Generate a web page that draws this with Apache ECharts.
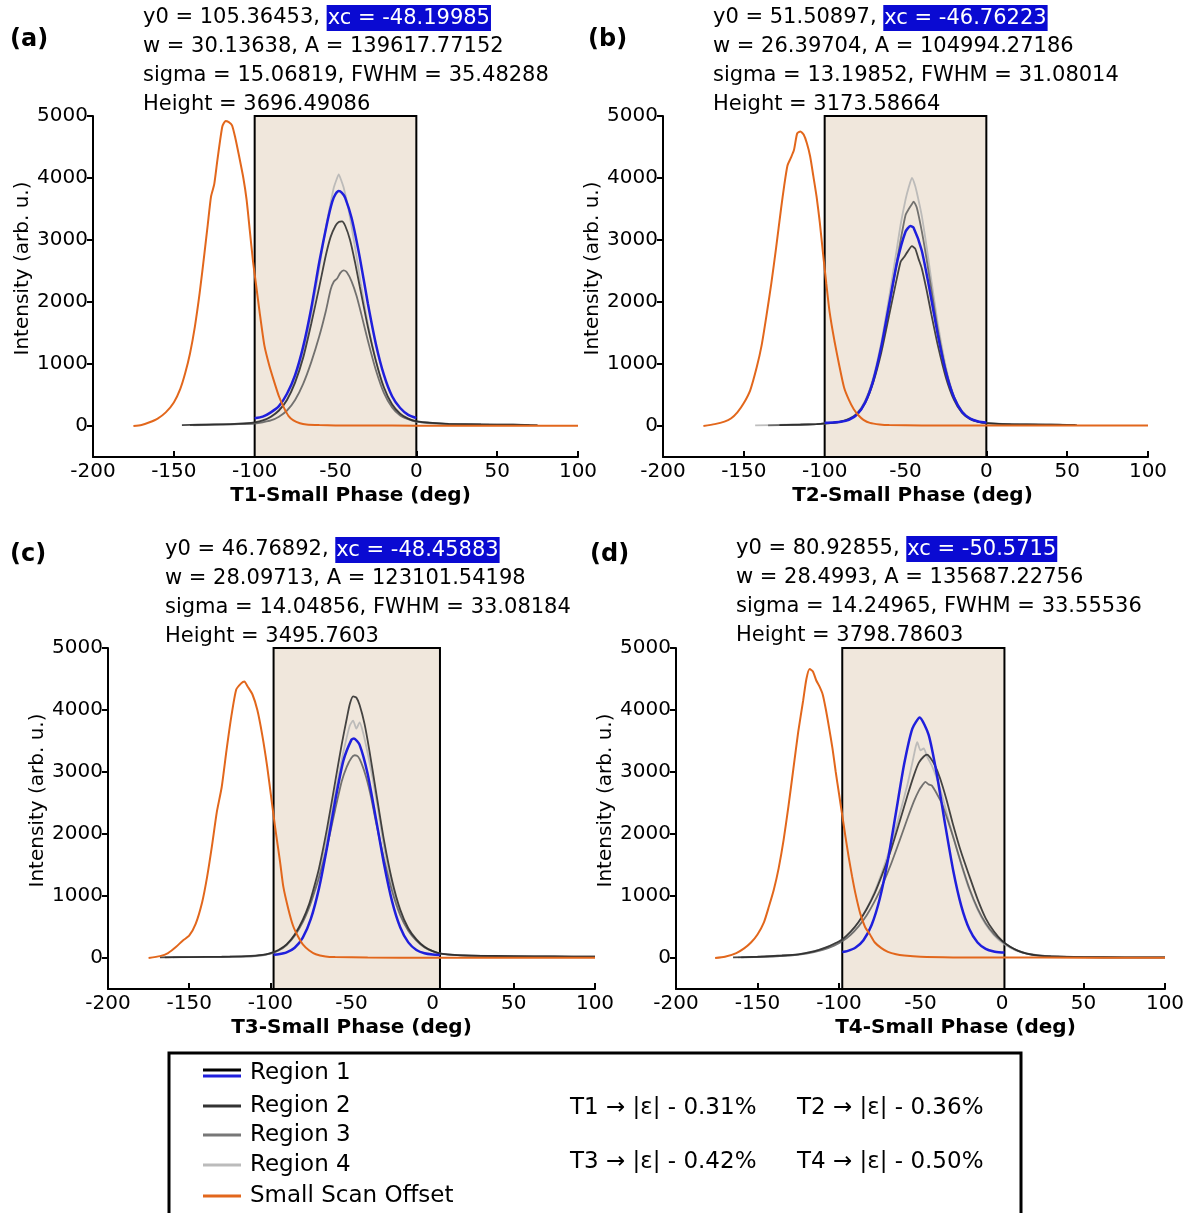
<!DOCTYPE html>
<html>
<head>
<meta charset="utf-8">
<script src="https://cdn.jsdelivr.net/npm/echarts@6/dist/echarts.min.js"></script>
<style>
html,body{margin:0;padding:0;background:#fff;}
#main{width:1195px;height:1213px;}
</style>
</head>
<body>
<div id="main"></div>
<script>
// ---------------- DATA ----------------
const xTicks = [-200, -150, -100, -50, 0, 50, 100];
const yTicks = [0, 1000, 2000, 3000, 4000, 5000];
const seriesNames = ['Region 1', 'Region 2', 'Region 3', 'Region 4', 'Small Scan Offset'];
const xTitles = ['T1-Small Phase (deg)', 'T2-Small Phase (deg)', 'T3-Small Phase (deg)', 'T4-Small Phase (deg)'];
const panelLabels = ['(a)', '(b)', '(c)', '(d)'];
const strainText = [['T1 → |ε| - 0.31%', 'T2 → |ε| - 0.36%'], ['T3 → |ε| - 0.42%', 'T4 → |ε| - 0.50%']];

// fit parameter annotations: [y0, xc, w, A, sigma, FWHM, Height]
const fitA = ['105.36453', '-48.19985', '30.13638', '139617.77152', '15.06819', '35.48288', '3696.49086'];
const fitB = ['51.50897', '-46.76223', '26.39704', '104994.27186', '13.19852', '31.08014', '3173.58664'];
const fitC = ['46.76892', '-48.45883', '28.09713', '123101.54198', '14.04856', '33.08184', '3495.7603'];
const fitD = ['80.92855', '-50.5715', '28.4993', '135687.22756', '14.24965', '33.55536', '3798.78603'];

// shaded phase windows [from, to]
const shadeA = [-100, 0];
const shadeB = [-100, 0];
const shadeC = [-98, 4.5];
const shadeD = [-98, 1.5];

// ---- panel (a) ----
const orangeA = [[-175,0],[-170,15],[-165,60],[-160,120],[-155,220],[-150,380],[-146,600],[-143,850],[-140,1170],[-137,1600],[-134,2150],[-131,2800],[-129,3250],[-127,3700],[-125,3900],[-123,4300],[-120,4830],[-118,4920],[-116,4900],[-114,4850],[-112,4650],[-110,4400],[-107,4000],[-105,3650],[-103,3150],[-101,2650],[-99,2250],[-97,1850],[-94,1300],[-91,980],[-88,720],[-85,480],[-82,300],[-79,160],[-76,90],[-72,45],[-68,25],[-60,15],[-50,10],[-30,8],[0,5],[50,5],[100,5]];
const region1A = [[-100,124],[-95,150],[-90,220],[-85,320],[-80,520],[-75,820],[-70,1280],[-65,1900],[-60,2650],[-55,3300],[-52,3620],[-50,3740],[-48,3790],[-46,3760],[-44,3680],[-40,3350],[-35,2720],[-30,1980],[-25,1320],[-20,820],[-15,480],[-10,290],[-5,180],[0,130]];
const region2A = [[-145,15],[-135,20],[-125,25],[-115,30],[-105,45],[-100,60],[-95,90],[-90,150],[-85,250],[-80,420],[-75,700],[-70,1100],[-65,1650],[-60,2250],[-56,2750],[-53,3050],[-50,3230],[-48,3290],[-46,3300],[-44,3230],[-41,3000],[-38,2650],[-35,2250],[-30,1600],[-25,1050],[-20,620],[-15,350],[-10,200],[-5,120],[0,80],[10,50],[20,35],[40,25],[60,20],[75,15]];
const region3A = [[-140,15],[-130,20],[-120,25],[-110,30],[-100,40],[-95,60],[-90,90],[-85,150],[-80,250],[-75,420],[-70,680],[-65,1030],[-60,1450],[-56,1850],[-53,2200],[-51,2330],[-49,2380],[-47,2470],[-45,2510],[-43,2480],[-40,2330],[-37,2100],[-34,1800],[-30,1380],[-25,900],[-20,530],[-15,300],[-10,170],[-5,110],[0,70],[10,45],[20,30],[40,25],[60,20],[70,15]];
const region4A = [[-138,10],[-125,20],[-110,30],[-100,50],[-95,80],[-90,140],[-85,250],[-80,430],[-75,740],[-70,1180],[-65,1800],[-60,2550],[-56,3200],[-53,3600],[-51,3850],[-49,4000],[-48,4060],[-47,4000],[-45,3850],[-42,3500],[-38,2900],[-35,2400],[-30,1650],[-25,1050],[-20,600],[-15,340],[-10,190],[-5,110],[0,70],[10,40],[25,30],[45,20],[65,15]];

// ---- panel (b) ----
const orangeB = [[-175,0],[-168,30],[-162,70],[-158,120],[-154,220],[-150,370],[-146,580],[-142,950],[-139,1300],[-136,1780],[-133,2300],[-130,2880],[-127,3500],[-125,3880],[-123,4200],[-121,4320],[-119,4450],[-117,4720],[-115,4750],[-113,4700],[-111,4560],[-109,4350],[-107,4030],[-105,3700],[-103,3280],[-101,2780],[-99,2300],[-97,1850],[-94,1380],[-91,980],[-88,620],[-85,420],[-82,270],[-79,170],[-76,100],[-72,50],[-66,25],[-60,15],[-40,10],[0,8],[50,8],[100,8]];
const region1B = [[-100,52],[-95,56],[-90,67],[-85,100],[-80,185],[-75,375],[-70,728],[-65,1277],[-60,1976],[-55,2667],[-50,3133],[-47,3225],[-45,3197],[-40,2835],[-35,2187],[-30,1469],[-25,868],[-20,459],[-15,227],[-10,118],[-5,73],[0,57]];
const region2B = [[-128,15],[-115,20],[-105,30],[-100,40],[-95,50],[-90,70],[-85,110],[-80,190],[-75,370],[-70,700],[-65,1180],[-60,1800],[-56,2300],[-53,2650],[-51,2720],[-49,2800],[-46,2900],[-44,2860],[-42,2700],[-40,2550],[-37,2200],[-34,1800],[-30,1300],[-25,780],[-20,420],[-15,210],[-10,110],[-5,65],[0,45],[10,30],[25,25],[40,20],[56,15]];
const region3B = [[-135,10],[-120,20],[-105,30],[-100,40],[-95,50],[-90,70],[-85,110],[-80,200],[-75,390],[-70,740],[-65,1260],[-60,1950],[-56,2550],[-53,3000],[-50,3400],[-48,3500],[-46,3580],[-45,3620],[-43,3520],[-40,3150],[-37,2700],[-34,2200],[-30,1550],[-25,900],[-20,470],[-15,230],[-10,120],[-5,70],[0,45],[15,30],[30,25],[45,20],[55,15]];
const region4B = [[-143,10],[-125,20],[-110,25],[-100,40],[-95,50],[-90,75],[-85,120],[-80,210],[-75,410],[-70,780],[-65,1350],[-60,2100],[-56,2750],[-53,3250],[-50,3650],[-48,3850],[-46,4000],[-44,3870],[-42,3650],[-40,3400],[-37,2900],[-34,2350],[-30,1650],[-25,950],[-20,480],[-15,240],[-10,120],[-5,70],[0,45],[20,25],[40,20],[55,15]];

// ---- panel (c) ----
const orangeC = [[-175,0],[-168,30],[-163,80],[-158,180],[-154,280],[-150,360],[-146,550],[-142,900],[-139,1300],[-136,1800],[-133,2350],[-130,2750],[-127,3350],[-124,3900],[-121,4330],[-118,4430],[-116,4460],[-114,4380],[-111,4250],[-108,4000],[-105,3600],[-102,3100],[-99.5,2600],[-97,2100],[-94,1550],[-92,1150],[-89,800],[-86,520],[-83,350],[-80,220],[-76,120],[-72,60],[-66,25],[-60,15],[-40,8],[0,5],[50,5],[100,5]];
const region1C = [[-98,54],[-95,61],[-90,91],[-85,166],[-80,328],[-75,634],[-70,1127],[-65,1795],[-60,2543],[-55,3183],[-50,3522],[-48.5,3542],[-45,3438],[-40,2963],[-35,2256],[-30,1522],[-25,914],[-20,496],[-15,252],[-10,130],[-5,76],[0,56],[4.5,50]];
const region2C = [[-168,10],[-150,15],[-130,20],[-115,30],[-105,50],[-100,80],[-95,130],[-90,220],[-85,380],[-80,620],[-76,880],[-73,1150],[-70,1450],[-65,2100],[-60,2850],[-56,3450],[-53,3850],[-51,4100],[-49,4220],[-47,4200],[-45,4080],[-42,3780],[-39,3350],[-35,2700],[-30,1900],[-25,1250],[-20,780],[-15,480],[-10,300],[-5,180],[0,110],[5,70],[15,45],[30,35],[50,30],[75,25],[100,20]];
const region3C = [[-165,10],[-145,15],[-125,20],[-110,30],[-100,70],[-95,120],[-90,210],[-85,360],[-80,580],[-76,820],[-73,1050],[-70,1300],[-65,1800],[-60,2400],[-56,2850],[-53,3080],[-50,3230],[-48,3270],[-46,3250],[-44,3150],[-41,2920],[-38,2600],[-35,2200],[-30,1600],[-25,1080],[-20,690],[-15,440],[-10,280],[-5,170],[0,110],[5,70],[20,40],[40,30],[70,25],[100,20]];
const region4C = [[-160,10],[-140,15],[-120,20],[-105,40],[-100,70],[-95,120],[-90,210],[-85,370],[-80,600],[-76,850],[-73,1100],[-70,1380],[-65,1950],[-60,2650],[-56,3200],[-53,3550],[-51,3750],[-49,3830],[-47,3700],[-45,3800],[-43,3650],[-40,3300],[-37,2900],[-34,2450],[-30,1800],[-25,1180],[-20,740],[-15,460],[-10,290],[-5,175],[0,110],[5,70],[20,40],[45,30],[75,25],[100,20]];

// ---- panel (d) ----
const orangeD = [[-176,0],[-170,20],[-163,80],[-158,160],[-154,250],[-150,380],[-146,580],[-143,830],[-140,1100],[-137,1450],[-134,1900],[-131,2450],[-128,3050],[-125,3650],[-122,4150],[-120,4500],[-118,4660],[-116,4620],[-114,4480],[-112,4380],[-110,4250],[-108,4000],[-106,3700],[-104,3380],[-102,3000],[-100,2650],[-98,2300],[-96,1950],[-94,1620],[-92,1320],[-90,1050],[-87,720],[-84,500],[-81,380],[-78,250],[-74,160],[-70,100],[-65,60],[-60,40],[-50,20],[-30,10],[0,8],[50,5],[100,5]];
const region1D = [[-98,96],[-95,110],[-90,164],[-85,286],[-80,531],[-75,955],[-70,1580],[-65,2355],[-60,3132],[-55,3701],[-50.5,3880],[-45,3599],[-40,2965],[-35,2172],[-30,1421],[-25,841],[-20,462],[-15,250],[-10,147],[-5,104],[0,88],[1.5,87]];
const region2D = [[-165,10],[-150,20],[-135,40],[-125,60],[-115,110],[-108,170],[-103,230],[-98,300],[-93,420],[-88,580],[-83,790],[-78,1050],[-73,1380],[-68,1750],[-63,2180],[-58,2620],[-54,2950],[-51,3150],[-48,3250],[-46,3280],[-44,3230],[-41,3100],[-38,2900],[-34,2550],[-30,2150],[-25,1700],[-20,1320],[-15,950],[-10,640],[-5,430],[0,280],[5,180],[10,115],[15,72],[22,40],[30,25],[50,15],[75,10],[100,10]];
const region3D = [[-160,10],[-145,20],[-130,40],[-120,70],[-110,130],[-103,200],[-98,270],[-93,370],[-88,510],[-83,690],[-78,920],[-73,1200],[-68,1520],[-63,1880],[-58,2250],[-54,2530],[-51,2700],[-49,2780],[-47,2840],[-45,2800],[-43,2780],[-40,2650],[-37,2500],[-33,2200],[-29,1870],[-25,1520],[-20,1120],[-15,800],[-10,560],[-5,390],[0,270],[5,180],[10,115],[15,75],[22,45],[30,28],[50,15],[75,10],[100,10]];
const region4D = [[-162,10],[-148,20],[-133,40],[-122,70],[-112,130],[-105,200],[-98,290],[-93,410],[-88,580],[-83,800],[-78,1080],[-73,1430],[-68,1830],[-63,2300],[-58,2800],[-55,3150],[-53,3400],[-52,3480],[-50,3350],[-48,3380],[-46,3250],[-43,3100],[-40,2900],[-36,2550],[-32,2150],[-28,1780],[-24,1420],[-20,1100],[-15,780],[-10,540],[-5,370],[0,250],[5,165],[10,105],[16,65],[24,38],[35,22],[60,12],[100,8]];

// ---------------- BUILD ----------------
const FONT = '"DejaVu Sans", "Liberation Sans", Arial, sans-serif';
const COL = { r1: '#1f1fdc', r2: '#262626', r3: '#5c5c5c', r4: '#b3b3b3', orange: '#e2671c', shade: '#f0e7dc' };

const panels = [
  { grid: {left: 93, top: 116, width: 485, height: 341}, shade: shadeA, fit: fitA, data: [region1A, region2A, region3A, region4A, orangeA], label: [10, 40], note: [143, 18], xShift: 30 },
  { grid: {left: 663, top: 116, width: 485, height: 341}, shade: shadeB, fit: fitB, data: [region1B, region2B, region3B, region4B, orangeB], label: [588, 40], note: [713, 18], xShift: 14 },
  { grid: {left: 108, top: 648, width: 487, height: 341}, shade: shadeC, fit: fitC, data: [region1C, region2C, region3C, region4C, orangeC], label: [10, 555], note: [165, 550], xShift: 0 },
  { grid: {left: 676, top: 648, width: 489, height: 341}, shade: shadeD, fit: fitD, data: [region1D, region2D, region3D, region4D, orangeD], label: [590, 555], note: [736, 549], xShift: 70 }
];

const grids = [], xAxes = [], yAxes = [], series = [], graphics = [];

panels.forEach((p, i) => {
  grids.push(Object.assign({containLabel: false}, p.grid));
  xAxes.push({
    type: 'value', gridIndex: i, min: -200, max: 100, interval: 50,
    name: xTitles[i], nameLocation: 'middle', nameGap: 29,
    nameTextStyle: {fontFamily: FONT, fontSize: 20, fontWeight: 'bold', color: '#000', padding: [0, 0, 0, p.xShift]},
    axisLine: {show: true, onZero: false, lineStyle: {color: '#000', width: 2}},
    axisTick: {show: true, inside: true, length: 6, lineStyle: {color: '#000', width: 2}},
    axisLabel: {fontFamily: FONT, fontSize: 20, color: '#000', margin: 5, formatter: v => String(v)},
    splitLine: {show: false}
  });
  yAxes.push({
    type: 'value', gridIndex: i, min: -500, max: 5000,
    name: 'Intensity (arb. u.)', nameLocation: 'middle', nameGap: 52, nameRotate: 90,
    nameTextStyle: {fontFamily: FONT, fontSize: 20, color: '#000', padding: [0, 0, 0, 36]},
    axisLine: {show: true, onZero: false, lineStyle: {color: '#000', width: 2}},
    axisTick: {show: true, inside: false, length: 6, customValues: yTicks, lineStyle: {color: '#000', width: 2}},
    axisLabel: {fontFamily: FONT, fontSize: 20, color: '#000', margin: 5, customValues: yTicks, formatter: v => String(v)},
    splitLine: {show: false}
  });
  // shaded window
  series.push({
    type: 'line', xAxisIndex: i, yAxisIndex: i, z: 1, silent: true, symbol: 'none',
    data: [[p.shade[0], -500], [p.shade[1], -500]],
    lineStyle: {opacity: 0},
    markArea: {
      silent: true,
      itemStyle: {color: COL.shade, borderColor: '#000', borderWidth: 2},
      data: [[{xAxis: p.shade[0], yAxis: -500}, {xAxis: p.shade[1], yAxis: 5000}]]
    }
  });
  const order = [3, 2, 1, 0, 4];
  const colors = [COL.r1, COL.r2, COL.r3, COL.r4, COL.orange];
  const widths = [2.5, 1.8, 1.8, 1.8, 2];
  order.forEach((k, j) => {
    series.push({
      name: seriesNames[k], type: 'line', xAxisIndex: i, yAxisIndex: i, z: 3 + j,
      data: p.data[k], symbol: 'none', smooth: 0.2,
      lineStyle: {color: colors[k], width: widths[k], opacity: k === 0 || k === 4 ? 1 : 0.85},
      itemStyle: {color: colors[k]}
    });
  });
  // panel label
  graphics.push({type: 'text', x: p.label[0], y: p.label[1],
    style: {text: panelLabels[i], font: 'bold 24px ' + FONT, fill: '#000', verticalAlign: 'middle'}});
  // fit annotations
  const f = p.fit;
  const lines = [
    'y0 = ' + f[0] + ', {hl|xc = ' + f[1] + '}',
    'w = ' + f[2] + ', A = ' + f[3],
    'sigma = ' + f[4] + ', FWHM = ' + f[5],
    'Height = ' + f[6]
  ];
  lines.forEach((t, li) => {
    graphics.push({type: 'text', x: p.note[0], y: p.note[1] + li * 29,
      style: {text: t, font: '21px ' + FONT, fontSize: 21, fontFamily: FONT, fill: '#000', verticalAlign: 'middle',
        rich: {hl: {backgroundColor: '#0a0ad2', fill: '#ffffff', color: '#ffffff', fontSize: 21, fontFamily: FONT, padding: [3, 1, 2, 1]}}}});
  });
});

// legend box
graphics.push({type: 'rect', shape: {x: 169, y: 1053, width: 852, height: 180},
  style: {fill: '#fff', stroke: '#000', lineWidth: 3}, z: 10});
const legRows = [1073, 1106, 1135, 1165, 1196];
const legColors = [COL.r1, '#333333', '#777777', '#bbbbbb', COL.orange];
legRows.forEach((y, k) => {
  if (k === 0) {
    graphics.push({type: 'line', shape: {x1: 203, y1: y - 3, x2: 241, y2: y - 3}, style: {stroke: '#000', lineWidth: 3}, z: 11});
    graphics.push({type: 'line', shape: {x1: 203, y1: y + 3, x2: 241, y2: y + 3}, style: {stroke: COL.r1, lineWidth: 3}, z: 11});
  } else {
    graphics.push({type: 'line', shape: {x1: 203, y1: y, x2: 241, y2: y}, style: {stroke: legColors[k], lineWidth: 3}, z: 11});
  }
  graphics.push({type: 'text', x: 250, y: y, z: 11,
    style: {text: seriesNames[k], font: '23px ' + FONT, fill: '#000', verticalAlign: 'middle'}});
});
[[1108, 0], [1162, 1]].forEach(([y, r]) => {
  graphics.push({type: 'text', x: 570, y: y, z: 11, style: {text: strainText[r][0], font: '23px ' + FONT, fill: '#000', verticalAlign: 'middle'}});
  graphics.push({type: 'text', x: 797, y: y, z: 11, style: {text: strainText[r][1], font: '23px ' + FONT, fill: '#000', verticalAlign: 'middle'}});
});

const chart = echarts.init(document.getElementById('main'), null, {renderer: 'canvas'});
chart.setOption({
  animation: false,
  backgroundColor: '#fff',
  grid: grids, xAxis: xAxes, yAxis: yAxes, series: series,
  graphic: graphics
});
</script>
</body>
</html>
